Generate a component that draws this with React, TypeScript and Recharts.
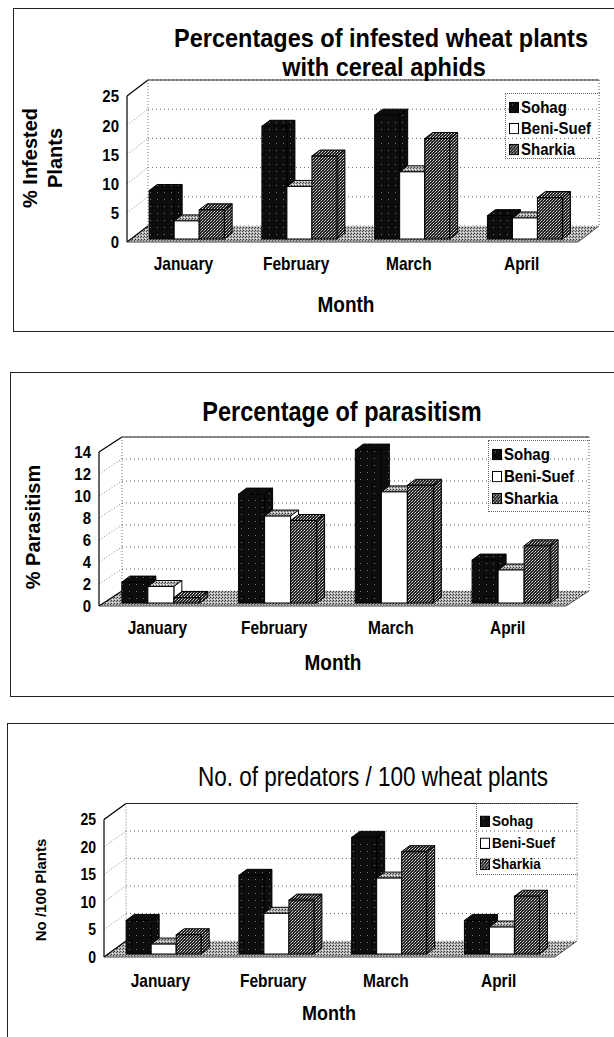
import React from "react";
import { BarChart, Bar, XAxis, YAxis, CartesianGrid, ReferenceArea } from "recharts";

const months = ["January", "February", "March", "April"];
const seriesNames = ["Sohag", "Beni-Suef", "Sharkia"];

// % infested wheat plants
const infestedSohag = [8.3, 19.3, 21.2, 4.0];
const infestedBeniSuef = [3.1, 9.0, 11.5, 3.6];
const infestedSharkia = [5.0, 14.2, 17.2, 7.1];
const infestedTicks = [0, 5, 10, 15, 20, 25];

// % parasitism
const parasitismSohag = [1.9, 9.9, 13.9, 3.9];
const parasitismBeniSuef = [1.5, 7.9, 10.1, 3.0];
const parasitismSharkia = [0.5, 7.5, 10.7, 5.2];
const parasitismTicks = [0, 2, 4, 6, 8, 10, 12, 14];

// predators / 100 plants
const predatorsSohag = [6.1, 14.3, 21.2, 6.1];
const predatorsBeniSuef = [1.8, 7.4, 13.8, 4.9];
const predatorsSharkia = [3.5, 9.8, 18.6, 10.5];
const predatorsTicks = [0, 5, 10, 15, 20, 25];

const FONT = '"Liberation Sans", Arial, Helvetica, sans-serif';
const PAGE_W = 614;
const X_AXIS_H = 40;
const Y_AXIS_W = 40;
const STRETCH = 1.15; // scanned print looks a bit taller than Arial

const buildRows = (a: number[], b: number[], c: number[]) =>
  months.map((m, i) => ({ month: m, [seriesNames[0]]: a[i], [seriesNames[1]]: b[i], [seriesNames[2]]: c[i] }));

type Layout = {
  svgTop: number;
  svgH: number;
  left: number;
  right: number;
  top: number;
  bottom: number;
  dx: number;
  dy: number;
  tickSize: number;
  xTickSize: number;
  xTickMargin: number;
};

// draws one 3D column from the rect recharts computed
const columnShape = (front: string, top: string, side: string) => (props: any) => {
  const { x, y, width, height } = props;
  if (!height || height <= 0) return <g />;
  const X = x + 3;
  const Y = y - 3;
  const d = 8;
  const h = 6;
  return (
    <g>
      <polygon
        points={`${X},${Y} ${X + d},${Y - h} ${X + width + d},${Y - h} ${X + width},${Y}`}
        fill={top}
        stroke="#000"
        strokeWidth={1}
      />
      <polygon
        points={`${X + width},${Y} ${X + width + d},${Y - h} ${X + width + d},${Y + height - h} ${X + width},${Y + height}`}
        fill={side}
        stroke="#000"
        strokeWidth={1}
      />
      <rect x={X} y={Y} width={width} height={height} fill={front} stroke="#000" strokeWidth={1} />
    </g>
  );
};

const yTick = (size: number) => (p: any) => {
  const { x, y, payload } = p;
  return (
    <text
      x={x}
      y={y}
      textAnchor="end"
      dominantBaseline="central"
      fontSize={size}
      fontWeight={700}
      fill="#000"
      fontFamily={FONT}
      transform={`translate(${x},${y}) scale(1,${STRETCH}) translate(${-x},${-y})`}
    >
      {payload.value}
    </text>
  );
};

const xTick = (size: number) => (p: any) => {
  const { x, y, payload } = p;
  return (
    <text
      x={x}
      y={y}
      dy="0.71em"
      textAnchor="middle"
      fontSize={size}
      fontWeight={700}
      fill="#000"
      fontFamily={FONT}
      transform={`translate(${x},${y}) scale(1,${STRETCH}) translate(${-x},${-y})`}
    >
      {payload.value}
    </text>
  );
};

function Patterns({ id }: { id: string }) {
  return (
    <defs>
      <pattern id={`${id}-floor`} width="3" height="3" patternUnits="userSpaceOnUse">
        <rect width="3" height="3" fill="#b4b4b4" />
        <rect x="0" y="0" width="1" height="1" fill="#333" />
        <rect x="2" y="1" width="1" height="1" fill="#555" />
        <rect x="1" y="2" width="1" height="1" fill="#eee" />
      </pattern>
      <pattern id={`${id}-dark`} width="3" height="3" patternUnits="userSpaceOnUse">
        <rect width="3" height="3" fill="#222" />
        <rect x="0" y="0" width="1" height="1" fill="#bbb" />
        <rect x="2" y="1" width="1" height="1" fill="#888" />
        <rect x="1" y="2" width="1" height="1" fill="#ddd" />
      </pattern>
      <pattern id={`${id}-black`} width="7" height="7" patternUnits="userSpaceOnUse">
        <rect width="7" height="7" fill="#0d0d0d" />
        <rect x="3" y="2" width="1" height="1" fill="#777" />
      </pattern>
    </defs>
  );
}

function Chart3D({ id, rows, ticks, L }: { id: string; rows: any[]; ticks: number[]; L: Layout }) {
  const { dx, dy } = L;
  const black = `url(#${id}-black)`;
  const dark = `url(#${id}-dark)`;
  const floor = `url(#${id}-floor)`;

  const walls = (p: any) => {
    const { x, y, width, height } = p;
    const r = x + width;
    const b = y + height;
    return (
      <g>
        <polygon points={`${x},${b} ${r},${b} ${r + dx},${b - dy} ${x + dx},${b - dy}`} fill={floor} stroke="none" />
        <line x1={x} y1={y} x2={x} y2={b} stroke="#000" strokeWidth={1.2} />
        <line x1={x} y1={y} x2={x + dx} y2={y - dy} stroke="#000" strokeWidth={1.2} />
        <line x1={x + dx} y1={y - dy} x2={r + dx} y2={y - dy} stroke="#222" strokeWidth={1} />
        <line x1={x + dx} y1={y - dy} x2={x + dx} y2={b - dy} stroke="#777" strokeDasharray="1 2" />
        <line x1={r + dx} y1={y - dy} x2={r + dx} y2={b - dy} stroke="#555" strokeDasharray="1 2" />
        <line x1={x} y1={b} x2={x + dx} y2={b - dy} stroke="#000" strokeWidth={1.2} />
        <line x1={x} y1={b} x2={r} y2={b} stroke="#444" strokeWidth={1} />
        <line x1={r} y1={b} x2={r + dx} y2={b - dy} stroke="#555" strokeWidth={1} />
      </g>
    );
  };

  const gridLine = (p: any) => (
    <g key={p.key}>
      <line x1={p.x1 + dx} y1={p.y1 - dy} x2={p.x2 + dx} y2={p.y2 - dy} stroke="#666" strokeDasharray="1 3" />
      <line x1={p.x1} y1={p.y1} x2={p.x1 + dx} y2={p.y1 - dy} stroke="#888" strokeDasharray="1 2" />
    </g>
  );

  return (
    <div style={{ position: "absolute", left: 0, top: L.svgTop }}>
      <BarChart
        width={PAGE_W}
        height={L.svgH}
        data={rows}
        margin={{
          top: L.top - L.svgTop,
          bottom: L.svgTop + L.svgH - L.bottom - X_AXIS_H,
          left: L.left - Y_AXIS_W,
          right: PAGE_W - L.right,
        }}
        barCategoryGap="17%"
        barGap={0}
      >
        <Patterns id={id} />
        <ReferenceArea y1={ticks[0]} y2={ticks[ticks.length - 1]} shape={walls} ifOverflow="visible" />
        <CartesianGrid vertical={false} horizontal={gridLine} />
        <XAxis
          dataKey="month"
          height={X_AXIS_H}
          axisLine={false}
          tickLine={false}
          tickMargin={L.xTickMargin}
          tick={xTick(L.xTickSize)}
        />
        <YAxis
          width={Y_AXIS_W}
          domain={[ticks[0], ticks[ticks.length - 1]]}
          ticks={ticks}
          axisLine={false}
          tickLine={false}
          interval={0}
          tick={yTick(L.tickSize)}
        />
        <Bar dataKey={seriesNames[0]} fill={black} shape={columnShape(black, black, black)} isAnimationActive={false} />
        <Bar dataKey={seriesNames[1]} fill="#fff" shape={columnShape("#fff", floor, "#fff")} isAnimationActive={false} />
        <Bar dataKey={seriesNames[2]} fill={dark} shape={columnShape(dark, dark, dark)} isAnimationActive={false} />
      </BarChart>
    </div>
  );
}

function Text({ x, y, size, bold = true, rotate = false, stretch = STRETCH, children }: any) {
  return (
    <div
      style={{
        position: "absolute",
        left: x,
        top: y,
        transform: `translate(-50%, -50%)${rotate ? " rotate(-90deg)" : ""} scaleY(${stretch})`,
        fontSize: size,
        fontWeight: bold ? 700 : 400,
        whiteSpace: "nowrap",
        lineHeight: 1,
        fontFamily: FONT,
        color: "#000",
      }}
    >
      {children}
    </div>
  );
}

function LegendBox({ id, x, y, w, h, rows, size }: any) {
  const fills = [`url(#${id}-black)`, "#fff", `url(#${id}-dark)`];
  return (
    <div
      style={{
        position: "absolute",
        left: x,
        top: y,
        width: w,
        height: h,
        borderTop: "1px dotted #666",
        borderLeft: "1px dotted #666",
        borderBottom: "1px dotted #666",
        fontFamily: FONT,
      }}
    >
      {seriesNames.map((name, i) => (
        <div
          key={name}
          style={{
            position: "absolute",
            left: 3,
            top: rows[i] - y,
            transform: `translateY(-50%) scaleY(${STRETCH})`,
            display: "flex",
            alignItems: "center",
            fontSize: size,
            fontWeight: 700,
            lineHeight: 1,
            whiteSpace: "nowrap",
          }}
        >
          <svg width={10} height={10} style={{ marginRight: 2 }}>
            <rect x={0.5} y={0.5} width={9} height={9} fill={fills[i]} stroke="#000" />
          </svg>
          {name}
        </div>
      ))}
    </div>
  );
}

const layout1: Layout = { svgTop: 8, svgH: 322, left: 127, right: 578, top: 96, bottom: 242, dx: 21, dy: 16, tickSize: 15, xTickSize: 15.5, xTickMargin: 9 };
const layout2: Layout = { svgTop: 372, svgH: 323, left: 99, right: 566, top: 452, bottom: 606, dx: 23, dy: 15, tickSize: 15, xTickSize: 15.5, xTickMargin: 9 };
const layout3: Layout = { svgTop: 723, svgH: 314, left: 104, right: 555, top: 819.5, bottom: 957, dx: 22, dy: 16, tickSize: 14, xTickSize: 15.5, xTickMargin: 11 };

export default function App() {
  const frame = { position: "absolute" as const, border: "1.5px solid #222", borderRight: "none" };
  return (
    <div style={{ position: "absolute", left: 0, top: 0, width: PAGE_W, height: 1037, overflow: "hidden", background: "#fff", fontFamily: FONT }}>
      <div style={{ ...frame, left: 13, top: 8, width: 620, height: 322 }} />
      <div style={{ ...frame, left: 10, top: 372, width: 620, height: 323 }} />
      <div style={{ ...frame, left: 7, top: 723, width: 620, height: 400 }} />

      {/* chart 1 */}
      <Chart3D id="c1" rows={buildRows(infestedSohag, infestedBeniSuef, infestedSharkia)} ticks={infestedTicks} L={layout1} />
      <Text x={381} y={39} size={23.5} stretch={1.08}>Percentages of infested wheat plants</Text>
      <Text x={384} y={68} size={23.5} stretch={1.08}>with cereal aphids</Text>
      <Text x={30} y={158} size={20} rotate stretch={1}>% Infested</Text>
      <Text x={55} y={158} size={20} rotate stretch={1}>Plants</Text>
      <Text x={346} y={305} size={19}>Month</Text>
      <LegendBox id="c1" x={505} y={93} w={94} h={64} rows={[106, 127, 148]} size={15} />

      {/* chart 2 */}
      <Chart3D id="c2" rows={buildRows(parasitismSohag, parasitismBeniSuef, parasitismSharkia)} ticks={parasitismTicks} L={layout2} />
      <Text x={342} y={412} size={23.5} stretch={1.2}>Percentage of parasitism</Text>
      <Text x={33} y={527} size={20} rotate stretch={1}>% Parasitism</Text>
      <Text x={333} y={663} size={19}>Month</Text>
      <LegendBox id="c2" x={488} y={440} w={101} h={70} rows={[453, 475, 497]} size={15} />

      {/* chart 3 */}
      <Chart3D id="c3" rows={buildRows(predatorsSohag, predatorsBeniSuef, predatorsSharkia)} ticks={predatorsTicks} L={layout3} />
      <Text x={373} y={778} size={22.5} bold={false} stretch={1.2}>No. of predators / 100 wheat plants</Text>
      <Text x={40} y={890} size={15} rotate stretch={1}>No /100 Plants</Text>
      <Text x={329} y={1013} size={18}>Month</Text>
      <LegendBox id="c3" x={476} y={803} w={101} h={70} rows={[820, 842, 863]} size={13.5} />
    </div>
  );
}
